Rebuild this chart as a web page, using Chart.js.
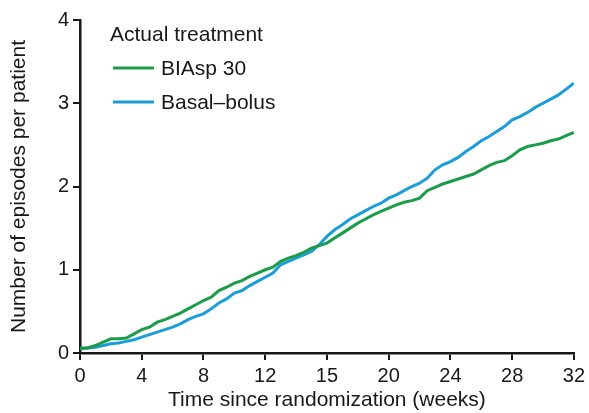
<!DOCTYPE html>
<html><head><meta charset="utf-8">
<script src="https://cdn.jsdelivr.net/npm/chart.js@4.4.1/dist/chart.umd.min.js"></script>
<style>html,body{margin:0;padding:0;background:#fff}#wrap{width:589px;height:413px}</style>
</head><body><div id="wrap"><canvas id="c" width="589" height="413"></canvas></div>
<script>
const weeks = [0,0.5,1,1.5,2,2.5,3,3.5,4,4.5,5,5.5,6,6.5,7,7.5,8,8.5,9,9.5,10,10.5,11,11.5,12,12.5,13,13.5,14,14.5,15,15.5,16,16.5,17,17.5,18,18.5,19,19.5,20,20.5,21,21.5,22,22.5,23,23.5,24,24.5,25,25.5,26,26.5,27,27.5,28,28.5,29,29.5,30,30.5,31,31.5,32];
const biasp30 = [0.06,0.06,0.09,0.13,0.17,0.17,0.18,0.23,0.28,0.31,0.37,0.40,0.44,0.48,0.53,0.58,0.63,0.67,0.75,0.79,0.84,0.87,0.92,0.96,1.00,1.03,1.10,1.14,1.17,1.21,1.26,1.29,1.32,1.38,1.44,1.50,1.56,1.61,1.66,1.70,1.74,1.78,1.81,1.83,1.86,1.95,1.99,2.03,2.06,2.09,2.12,2.15,2.20,2.25,2.29,2.31,2.37,2.44,2.48,2.50,2.52,2.55,2.57,2.61,2.65];
const basalBolus = [0.05,0.06,0.07,0.09,0.11,0.12,0.14,0.16,0.19,0.22,0.25,0.28,0.31,0.35,0.40,0.44,0.47,0.53,0.60,0.65,0.72,0.75,0.81,0.86,0.91,0.96,1.06,1.10,1.14,1.18,1.22,1.30,1.40,1.48,1.54,1.61,1.66,1.71,1.76,1.80,1.86,1.90,1.95,2.00,2.04,2.10,2.20,2.26,2.30,2.35,2.42,2.48,2.55,2.60,2.66,2.72,2.80,2.84,2.89,2.95,3.00,3.05,3.10,3.17,3.24];
const xTickLabels = ['0','4','8','12','15','20','24','28','32'];
const yTickLabels = ['0','1','2','3','4'];
const seriesNames = ['BIAsp 30','Basal\u2013bolus'];
const legendTitle = 'Actual treatment';
const xTitle = 'Time since randomization (weeks)';
const yTitle = 'Number of episodes per patient';

const GREEN = '#1a9c4a', BLUE = '#1a9dd9', AXIS = '#1a1718';
const FONT = '"Liberation Sans", Arial, Helvetica, sans-serif';

const legendPlugin = {
  id: 'customLegend',
  afterDraw(chart) {
    const ctx = chart.ctx;
    ctx.save();
    ctx.fillStyle = AXIS;
    ctx.font = '21px ' + FONT;
    ctx.textBaseline = 'alphabetic';
    ctx.textAlign = 'left';
    ctx.fillText(legendTitle, 110, 41);
    chart.data.datasets.forEach((ds, i) => {
      const y = 68 + i * 34;
      ctx.strokeStyle = ds.borderColor;
      ctx.lineWidth = 3;
      ctx.beginPath(); ctx.moveTo(113, y); ctx.lineTo(154, y); ctx.stroke();
      ctx.fillStyle = AXIS;
      ctx.fillText(ds.label, 161, y + 7);
    });
    ctx.restore();
  }
};

new Chart(document.getElementById('c'), {
  type: 'line',
  data: {
    datasets: [
      { label: seriesNames[0], data: weeks.map((w,i)=>({x:w,y:biasp30[i]})), borderColor: GREEN, borderWidth: 3, pointRadius: 0, tension: 0, fill: false },
      { label: seriesNames[1], data: weeks.map((w,i)=>({x:w,y:basalBolus[i]})), borderColor: BLUE, borderWidth: 3, pointRadius: 0, tension: 0, fill: false }
    ]
  },
  options: {
    responsive: false,
    animation: false,
    devicePixelRatio: 1,
    layout: { padding: { top: 20, right: 15, left: 0, bottom: 0 } },
    plugins: { legend: { display: false }, tooltip: { enabled: false } },
    scales: {
      x: {
        type: 'linear', min: 0, max: 32,
        afterFit(s) { s.height = 60; },
        ticks: { stepSize: 4, color: AXIS, font: { size: 20, family: FONT }, padding: 4, maxRotation: 0,
          callback: (v) => xTickLabels[Math.round(v / 4)] },
        grid: { display: true, drawOnChartArea: false, drawTicks: true, tickLength: 7, color: AXIS, lineWidth: 2 },
        border: { display: true, color: AXIS, width: 2.5 },
        title: { display: true, text: xTitle, color: AXIS, font: { size: 21, family: FONT }, padding: { top: 0, bottom: 0 } }
      },
      y: {
        type: 'linear', min: 0, max: 4,
        afterFit(s) { s.width = 80; },
        ticks: { stepSize: 1, color: AXIS, font: { size: 20, family: FONT }, padding: 4,
          callback: (v) => yTickLabels[Math.round(v)] },
        grid: { display: true, drawOnChartArea: false, drawTicks: true, tickLength: 7, color: AXIS, lineWidth: 2 },
        border: { display: true, color: AXIS, width: 2.5 },
        title: { display: true, text: yTitle, color: AXIS, font: { size: 21, family: FONT }, padding: { top: 7, bottom: 0 } }
      }
    }
  },
  plugins: [legendPlugin]
});
</script></body></html>
